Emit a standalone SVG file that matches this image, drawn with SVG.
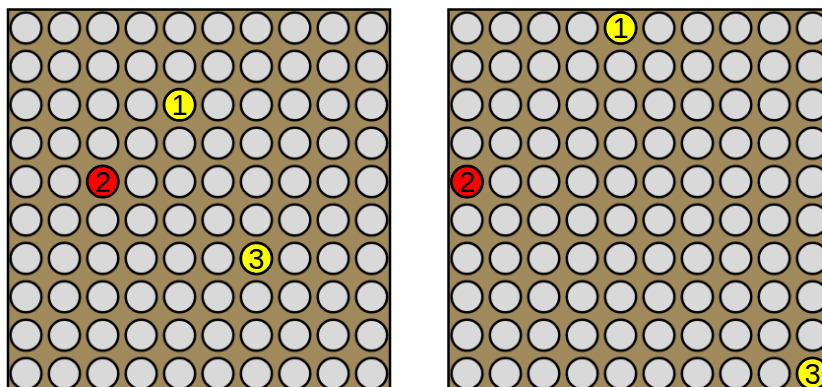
<svg xmlns="http://www.w3.org/2000/svg" width="822" height="387" viewBox="0 0 822 387">
  <style>
    .board { fill: #a08a5c; stroke: #000; stroke-width: 2.5; }
    .hole { fill: #d9d9d9; stroke: #000; stroke-width: 2.5; }
    .yel { fill: #ffff00; stroke: #000; stroke-width: 2.5; }
    .red { fill: #ff0000; stroke: #000; stroke-width: 2.5; }
    .num { font-family: "Liberation Sans", Arial, sans-serif; font-size: 29px; fill: #000; text-anchor: middle; }
  </style>
  <defs>
    <pattern id="holesL" patternUnits="userSpaceOnUse" x="6.8" y="8.8" width="38.4" height="38.4">
      <circle class="hole" cx="19.2" cy="19.2" r="15.5"/>
    </pattern>
    <pattern id="holesR" patternUnits="userSpaceOnUse" x="447.8" y="8.8" width="38.4" height="38.4">
      <circle class="hole" cx="19.2" cy="19.2" r="15.5"/>
    </pattern>
  </defs>
  <rect width="822" height="387" fill="#fff"/>
  <g id="boardLeft">
    <rect class="board" x="8" y="9.5" width="382" height="390"/>
    <rect x="6.8" y="8.8" width="384" height="384" fill="url(#holesL)"/>
  </g>
  <g id="boardRight">
    <rect class="board" x="448.5" y="9.5" width="390" height="390"/>
    <rect x="447.8" y="8.8" width="384" height="384" fill="url(#holesR)"/>
  </g>
  <g id="connectors"/>
  <g id="L1">
    <circle class="yel" cx="179.6" cy="104.8" r="15.5"/>
    <text class="num" x="179.6" y="115.2">1</text>
  </g>
  <g id="L2">
    <circle class="red" cx="102.8" cy="181.6" r="15.5"/>
    <text class="num" x="102.8" y="192">2</text>
  </g>
  <g id="L3">
    <circle class="yel" cx="256.4" cy="258.4" r="15.5"/>
    <text class="num" x="256.4" y="268.8">3</text>
  </g>
  <g id="R1">
    <circle class="yel" cx="620.6" cy="28" r="15.5"/>
    <text class="num" x="620.6" y="38.4">1</text>
  </g>
  <g id="R2">
    <circle class="red" cx="467" cy="181.6" r="15.5"/>
    <text class="num" x="467" y="192">2</text>
  </g>
  <g id="R3">
    <circle class="yel" cx="812.6" cy="373.6" r="15.5"/>
    <text class="num" x="812.6" y="384">3</text>
  </g>
</svg>
